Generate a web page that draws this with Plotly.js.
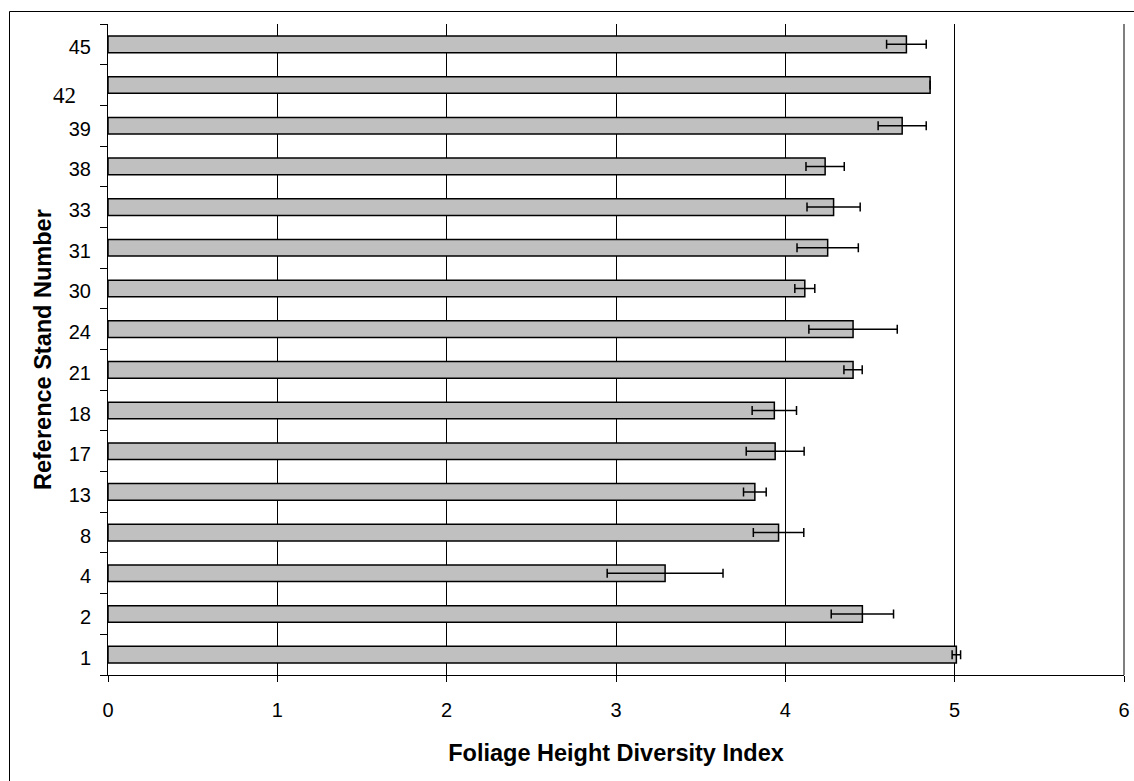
<!DOCTYPE html>
<html>
<head>
<meta charset="utf-8">
<script src="https://cdn.plot.ly/plotly-3.0.1.min.js"></script>
<style>
html,body{margin:0;padding:0;background:#fff;}
#chart{width:1134px;height:781px;}
</style>
</head>
<body>
<div id="chart"></div>
<script>
// Reference stand numbers (bottom to top)
const stands = ['1','2','4','8','13','17','18','21','24','30','31','33','38','39','42','45'];
// Foliage height diversity index
const fhd = [5.01, 4.455, 3.29, 3.96, 3.82, 3.94, 3.935, 4.40, 4.40, 4.115, 4.25, 4.285, 4.235, 4.69, 4.855, 4.715];
// Error (symmetric)
const fhdErr = [0.025, 0.184, 0.342, 0.149, 0.067, 0.171, 0.131, 0.054, 0.261, 0.059, 0.181, 0.157, 0.113, 0.142, null, 0.117];
// Tick labels (42 is drawn separately in a serif face, as in the original)
const tickLabels = stands.map(s => s === '42' ? '' : s);
const xTicks = [0, 1, 2, 3, 4, 5, 6];
const yTitle = 'Reference Stand Number';
const xTitle = 'Foliage Height Diversity Index';

const font = 'Liberation Sans, Arial, sans-serif';

const trace = {
  type: 'bar',
  orientation: 'h',
  y: stands,
  x: fhd,
  width: 0.41,
  marker: {color: '#c0c0c0', line: {color: '#000', width: 1.5}},
  error_x: {type: 'data', array: fhdErr, visible: true, symmetric: true,
            color: '#000', thickness: 1.5, width: 4.5},
  hoverinfo: 'x+y'
};

const layout = {
  width: 1134, height: 781,
  margin: {l: 108, r: 10, t: 24, b: 106},
  paper_bgcolor: '#fff', plot_bgcolor: '#fff',
  showlegend: false,
  font: {family: font, color: '#000', size: 20},
  xaxis: {
    range: [0, 6], tickvals: xTicks, ticktext: xTicks.map(String),
    showgrid: true, gridcolor: '#000', gridwidth: 1,
    zeroline: false, showline: true, linecolor: '#000', linewidth: 1,
    ticks: 'outside', ticklen: 6, tickcolor: '#000',
    ticklabelstandoff: 11,
    tickfont: {family: font, size: 20, color: '#000'},
    title: {text: '<b>' + xTitle + '</b>', font: {family: font, size: 23.5, color: '#000'}, standoff: 24}
  },
  yaxis: {
    type: 'category', categoryorder: 'array', categoryarray: stands,
    range: [-0.5, stands.length - 0.5], autorange: false,
    tickvals: stands, ticktext: tickLabels,
    tickson: 'boundaries', ticks: 'outside', ticklen: 7, tickcolor: '#000',
    ticklabelstandoff: 12, ticklabelshift: 3,
    showgrid: false, zeroline: false, showline: true, linecolor: '#000', linewidth: 1,
    tickfont: {family: font, size: 20, color: '#000'}
  },
  annotations: [
    {xref: 'paper', yref: 'y', x: 0, y: stands.indexOf('42'), xanchor: 'right', yanchor: 'middle',
     xshift: -30, yshift: -10, showarrow: false, text: '42',
     font: {family: 'Liberation Serif, Times New Roman, serif', size: 23, color: '#000'}},
    {xref: 'paper', yref: 'paper', x: (42.5 - 108) / 1016, y: 0.5, xanchor: 'center', yanchor: 'middle',
     textangle: -90, showarrow: false, text: '<b>' + yTitle + '</b>',
     font: {family: font, size: 23.5, color: '#000'}}
  ],
  shapes: [
    {type: 'line', xref: 'paper', yref: 'paper', x0: 1, x1: 1, y0: 0, y1: 1,
     line: {color: '#000', width: 1}, layer: 'above'},
    {type: 'rect', xref: 'paper', yref: 'paper',
     x0: (9.5 - 108) / 1016, x1: 1.2, y0: -0.4, y1: 1 + (24 - 11.5) / 651,
     line: {color: '#000', width: 1}, fillcolor: 'rgba(0,0,0,0)', layer: 'above'}
  ]
};

Plotly.newPlot('chart', [trace], layout, {displayModeBar: false, staticPlot: true});
</script>
</body>
</html>
